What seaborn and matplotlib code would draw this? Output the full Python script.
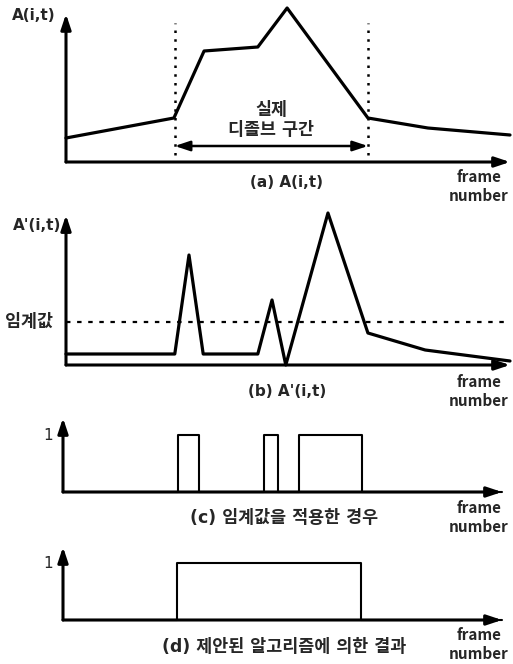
import matplotlib
matplotlib.use("Agg")
import matplotlib.pyplot as plt
import seaborn as sns
import pandas as pd

sns.set_style("white")
plt.rcParams["font.family"] = ["DejaVu Sans", "Noto Sans CJK KR"]

W, H = 513, 664

# ---- data (frame number vs value) ----
a_frame = [0, 24.3, 31.1, 43.2, 49.8, 68.0, 81.5, 100]
a_value = [24, 44, 111, 115, 154, 44, 34, 27]
dissolve_start, dissolve_end = 24.5, 68.0

b_frame = [0, 24.5, 27.7, 30.9, 43.2, 46.4, 49.5, 59.0, 68.0, 80.9, 100]
b_value = [11, 11, 110, 11, 11, 65, 0, 152, 32, 15, 4]
threshold = 43

c_frame = [0, 26.2, 31.0, 45.8, 49.0, 53.8, 68.1, 100]
c_value = [0, 1, 0, 1, 0, 1, 0, 0]

d_frame = [0, 26.0, 67.9, 100]
d_value = [0, 1, 0, 0]

fig = plt.figure(figsize=(5.13, 6.64), dpi=100)


def px_axes(left, right, top, bottom):
    return fig.add_axes([left / W, 1 - bottom / H, (right - left) / W, (bottom - top) / H])


def px_text(x, y, s, **kw):
    kw.setdefault("fontsize", 11)
    kw.setdefault("fontweight", "bold")
    kw.setdefault("ha", "center")
    kw.setdefault("va", "center")
    fig.text(x / W, 1 - y / H, s, **kw)


def draw_axes(ax, ytip):
    arr = dict(arrowstyle="-|>,head_length=0.9,head_width=0.3", lw=2.2, color="black",
               shrinkA=0, shrinkB=0)
    ax.annotate("", xy=(1, 0), xytext=(0, 0), xycoords="axes fraction", arrowprops=arr)
    ax.annotate("", xy=(0, ytip), xytext=(0, 0), xycoords="axes fraction", arrowprops=arr)
    ax.set_xlim(0, 100)
    ax.axis("off")


################################ (a) ################################
ax_a = px_axes(66, 510, 5, 162)
sns.lineplot(data=pd.DataFrame({"frame": a_frame, "value": a_value}), x="frame", y="value",
             ax=ax_a, color="black", lw=2.3, clip_on=False)
ax_a.set_ylim(0, 157)
ax_a.vlines([dissolve_start, dissolve_end], 7, 139, colors="black", lw=1.8,
            linestyles=(0, (1, 2.5)))
ax_a.annotate("", xy=(dissolve_end, 16), xytext=(dissolve_start, 16),
              arrowprops=dict(arrowstyle="<|-|>,head_length=0.9,head_width=0.3", lw=1.8,
                              color="black", shrinkA=0, shrinkB=0))
ax_a.text((dissolve_start + dissolve_end) / 2, 42, "실제\n디졸브 구간", ha="center", va="center",
          fontsize=12.5, fontweight="bold", linespacing=1.15)
draw_axes(ax_a, 0.943)
px_text(34, 15, "A(i,t)")
px_text(287, 182, "(a) A(i,t)")

################################ (b) ################################
ax_b = px_axes(66, 510, 208, 365)
sns.lineplot(data=pd.DataFrame({"frame": b_frame, "value": b_value}), x="frame", y="value",
             ax=ax_b, color="black", lw=2.3, clip_on=False)
ax_b.set_ylim(0, 157)
ax_b.axhline(threshold, color="black", lw=1.6, ls=(0, (2, 3)), clip_on=False)
draw_axes(ax_b, 0.955)
px_text(37, 225, "A'(i,t)")
px_text(29, 322, "임계값", fontsize=12.5)
px_text(287, 392, "(b) A'(i,t)")

################################ (c) ################################
ax_c = px_axes(63, 502, 415, 492)
sns.lineplot(data=pd.DataFrame({"frame": c_frame, "value": c_value}), x="frame", y="value",
             ax=ax_c, color="black", lw=1.5, drawstyle="steps-post", clip_on=False)
ax_c.set_ylim(0, 1.35)
draw_axes(ax_c, 0.961)
px_text(48, 435, "1", fontweight="normal")
px_text(284, 518, "(c) 임계값을 적용한 경우", fontsize=12.5)

################################ (d) ################################
ax_d = px_axes(63, 502, 543, 620)
sns.lineplot(data=pd.DataFrame({"frame": d_frame, "value": d_value}), x="frame", y="value",
             ax=ax_d, color="black", lw=1.5, drawstyle="steps-post", clip_on=False)
ax_d.set_ylim(0, 1.35)
draw_axes(ax_d, 0.948)
px_text(48, 563, "1", fontweight="normal")
px_text(284, 647, "(d) 제안된 알고리즘에 의한 결과", fontsize=12.5)

# frame number labels
for y in [177, 382, 508, 635]:
    px_text(479, y, "frame", family=["Noto Sans CJK KR"])
    px_text(479, y + 19, "number", family=["Noto Sans CJK KR"])

fig.savefig("out.png", dpi=100)
